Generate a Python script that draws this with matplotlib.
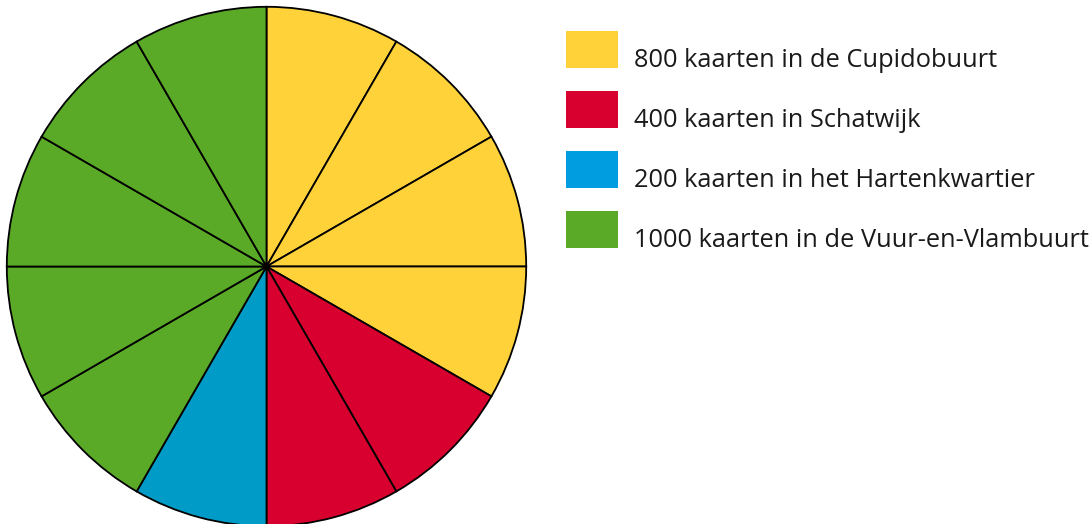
import matplotlib
matplotlib.use("Agg")
import matplotlib.pyplot as plt
from matplotlib.patches import Rectangle

# gegevens
labels = ["800 kaarten in de Cupidobuurt", "400 kaarten in Schatwijk",
          "200 kaarten in het Hartenkwartier", "1000 kaarten in de Vuur-en-Vlambuurt"]
kaarten = [800, 400, 200, 1000]
per_vak = 200
kleuren_pie = ["#FFD23A", "#D7002E", "#009BC6", "#5AAA28"]
kleuren_legenda = ["#FFD23A", "#D7002E", "#009EE0", "#5AAA28"]

W, H = 1091, 524
fig = plt.figure(figsize=(W / 100, H / 100), dpi=100)

# taart: elk vak is 200 kaarten
waarden = []
vak_kleuren = []
for n, k in zip(kaarten, kleuren_pie):
    for _ in range(n // per_vak):
        waarden.append(per_vak)
        vak_kleuren.append(k)

cx, cy, r = 266.5, 266.5, 261
ax = fig.add_axes([(cx - r) / W, (H - cy - r) / H, 2 * r / W, 2 * r / H])
ax.pie(waarden, colors=vak_kleuren, startangle=90, counterclock=False, radius=1,
       wedgeprops=dict(edgecolor="black", linewidth=1.3))
ax.set_xlim(-1.005, 1.005)
ax.set_ylim(-1.005, 1.005)
ax.set_aspect("equal")
ax.axis("off")

# legenda
lax = fig.add_axes([0, 0, 1, 1])
lax.set_xlim(0, W)
lax.set_ylim(H, 0)
lax.axis("off")
for i, (lab, k) in enumerate(zip(labels, kleuren_legenda)):
    top = 31 + 60 * i
    lax.add_patch(Rectangle((566, top), 52, 37, facecolor=k, edgecolor="none"))
    lax.text(634, top + 36, lab, fontsize=18.3, family="Open Sans",
             va="baseline", ha="left", color="#1a1a1a")

fig.savefig("out.png", dpi=100)
